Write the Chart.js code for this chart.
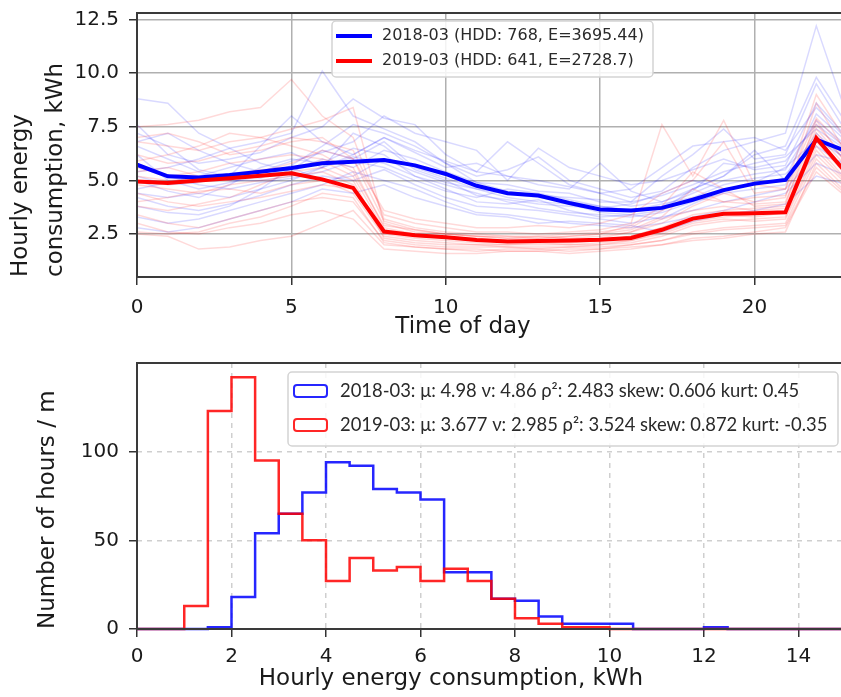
<!DOCTYPE html>
<html>
<head>
<meta charset="utf-8">
<title>Hourly energy consumption</title>
<script src="https://cdn.jsdelivr.net/npm/chart.js@4/dist/chart.umd.min.js"></script>
<style>
    body { margin: 0; background: #fff; }
    #wrap { position: relative; width: 841px; height: 697px; overflow: hidden; }
    canvas { position: absolute; left: 0; }
    #profileChart { top: 0; }
    #histChart { top: 340px; }
</style>
</head>
<body>
<div id="wrap">
    <canvas id="profileChart" width="841" height="340"></canvas>
    <canvas id="histChart" width="841" height="357"></canvas>
</div>
<script>
// --- top panel: hourly profiles ---
const hours = [0, 1, 2, 3, 4, 5, 6, 7, 8, 9, 10, 11, 12, 13, 14, 15, 16, 17, 18, 19, 20, 21, 22, 23];

const meanLabel2018 = '2018-03 (HDD: 768, E=3695.44)';
const meanLabel2019 = '2019-03 (HDD: 641, E=2728.7)';

const mean2018 = [5.73, 5.19, 5.14, 5.25, 5.4, 5.58, 5.8, 5.87, 5.95, 5.7, 5.3, 4.75, 4.4, 4.3, 3.95, 3.65, 3.6, 3.72, 4.1, 4.55, 4.85, 5.02, 6.9, 6.35];
const mean2019 = [4.95, 4.88, 5.0, 5.1, 5.22, 5.33, 5.05, 4.65, 2.62, 2.45, 2.35, 2.22, 2.15, 2.18, 2.2, 2.23, 2.32, 2.7, 3.22, 3.45, 3.47, 3.52, 6.97, 5.3];

// single days (faint lines)
const days2018 = [
    [8.8, 8.6, 7.2, 6.5, 6.8, 7.2, 10.1, 8.0, 7.4, 6.8, 5.8, 5.2, 5.5, 6.1, 5.0, 4.6, 4.2, 4.5, 5.6, 6.4, 6.8, 7.2, 12.2, 8.0],
    [7.6, 6.2, 5.8, 6.0, 6.3, 7.0, 7.5, 8.8, 7.9, 7.6, 6.2, 5.4, 6.8, 5.8, 4.8, 4.4, 4.0, 5.2, 6.2, 7.4, 6.0, 6.2, 9.5, 7.2],
    [6.2, 5.0, 4.6, 4.9, 5.2, 5.5, 6.4, 6.0, 6.8, 5.6, 5.1, 4.6, 4.4, 4.2, 4.0, 3.8, 3.6, 3.8, 4.4, 5.0, 5.3, 5.5, 7.8, 6.6],
    [5.0, 4.5, 4.2, 4.8, 5.6, 6.0, 5.8, 6.5, 6.2, 5.2, 4.6, 4.0, 3.9, 4.1, 3.6, 3.3, 3.4, 3.2, 3.9, 4.5, 4.9, 5.6, 6.9, 6.0],
    [4.2, 3.8, 3.6, 3.9, 4.3, 4.8, 5.2, 5.0, 5.5, 4.8, 4.2, 3.8, 3.7, 3.6, 3.4, 3.2, 3.0, 3.3, 3.6, 4.0, 4.3, 4.6, 6.2, 5.8],
    [3.3, 3.0, 3.2, 3.6, 4.0, 4.4, 4.8, 5.4, 5.0, 4.6, 4.0, 3.5, 3.4, 3.2, 3.0, 2.9, 2.8, 3.0, 3.3, 3.6, 4.0, 4.4, 5.8, 5.2],
    [6.8, 7.2, 6.4, 5.8, 5.4, 5.9, 6.3, 6.8, 8.0, 7.2, 6.8, 6.4, 5.0, 6.5, 5.6, 5.2, 4.8, 5.0, 5.5, 6.0, 5.5, 5.7, 8.6, 7.0],
    [5.4, 5.6, 6.0, 6.5, 5.8, 5.4, 6.0, 5.6, 6.4, 6.0, 5.4, 4.9, 4.8, 4.5, 4.4, 4.0, 4.0, 4.3, 4.8, 5.4, 5.8, 6.1, 7.4, 6.4],
    [2.8, 2.6, 2.8, 3.2, 3.6, 4.0, 4.6, 4.4, 4.8, 4.2, 3.8, 3.4, 3.3, 3.0, 3.1, 3.0, 2.9, 2.6, 3.1, 3.4, 3.6, 3.9, 5.2, 4.8],
    [4.6, 4.9, 5.2, 5.6, 6.0, 6.3, 5.6, 7.2, 6.6, 5.5, 5.0, 4.3, 4.1, 3.9, 3.8, 3.7, 3.9, 4.4, 5.0, 4.6, 4.8, 5.1, 8.1, 6.8],
    [7.2, 6.6, 5.5, 5.2, 6.6, 8.0, 6.8, 6.2, 7.0, 6.3, 5.6, 5.8, 5.2, 4.8, 4.6, 5.8, 4.5, 4.0, 4.6, 5.2, 6.2, 6.6, 9.8, 7.6],
    [5.8, 5.2, 4.8, 4.6, 4.9, 5.1, 5.4, 5.9, 5.6, 5.0, 4.5, 4.2, 4.6, 4.4, 4.1, 3.8, 3.6, 3.9, 4.2, 4.8, 5.1, 5.3, 6.6, 5.6],
    [6.6, 6.0, 5.4, 5.0, 5.0, 5.2, 5.6, 6.2, 7.0, 6.4, 5.9, 5.4, 5.2, 5.0, 4.7, 4.4, 4.6, 5.6, 6.6, 6.8, 7.0, 6.4, 8.4, 6.9],
    [3.8, 3.5, 3.4, 3.8, 4.6, 5.0, 5.6, 6.1, 5.8, 5.2, 4.8, 4.4, 4.0, 3.7, 3.5, 3.4, 3.3, 3.5, 4.0, 4.4, 4.6, 4.8, 7.0, 6.2],
    [5.2, 4.8, 4.9, 5.3, 5.1, 5.7, 6.6, 7.6, 7.2, 6.6, 5.8, 4.9, 4.5, 4.3, 4.2, 4.1, 3.8, 4.0, 4.5, 5.8, 5.6, 5.9, 7.6, 6.5],
    [4.4, 4.2, 4.4, 4.2, 4.6, 5.6, 5.0, 5.2, 6.0, 5.4, 4.9, 4.6, 4.2, 4.0, 3.9, 3.5, 3.4, 3.6, 4.6, 5.2, 6.4, 5.0, 7.2, 5.9]
];
const days2019 = [
    [7.5, 7.6, 7.8, 8.2, 8.4, 9.7, 8.0, 7.0, 3.2, 2.8, 2.6, 2.5, 2.4, 2.4, 2.5, 2.6, 2.8, 3.6, 4.2, 4.0, 4.2, 4.3, 7.6, 6.0],
    [6.8, 6.6, 6.4, 6.8, 7.0, 7.4, 7.8, 8.4, 3.0, 2.6, 2.5, 2.4, 2.3, 2.4, 2.3, 2.4, 2.6, 3.0, 3.8, 4.4, 4.0, 4.2, 8.6, 6.2],
    [5.6, 5.2, 5.4, 5.8, 6.0, 6.2, 6.0, 5.6, 2.8, 2.5, 2.4, 2.3, 2.2, 2.2, 2.1, 2.2, 2.4, 2.8, 3.4, 3.6, 3.7, 3.8, 7.2, 5.6],
    [4.8, 4.6, 4.4, 4.8, 5.0, 5.2, 5.4, 4.8, 2.5, 2.3, 2.2, 2.1, 2.0, 2.1, 2.0, 2.1, 2.2, 2.6, 3.1, 3.3, 3.4, 3.5, 6.8, 5.2],
    [4.0, 4.2, 4.5, 4.6, 4.4, 4.8, 5.0, 4.4, 2.4, 2.2, 2.1, 2.0, 2.0, 2.0, 2.0, 2.0, 2.1, 2.4, 2.9, 3.1, 3.2, 3.3, 6.4, 4.9],
    [3.4, 3.0, 2.8, 3.2, 3.6, 4.0, 4.2, 4.0, 2.2, 2.0, 1.9, 1.9, 1.9, 1.8, 1.9, 1.9, 2.0, 2.2, 2.6, 2.8, 2.9, 3.0, 6.0, 4.6],
    [2.5, 2.4, 1.8, 1.9, 2.2, 2.4, 3.0, 3.6, 2.0, 1.9, 1.8, 1.8, 1.7, 1.7, 1.8, 1.8, 1.9, 2.0, 2.3, 2.4, 2.6, 2.8, 5.4, 4.2],
    [6.2, 5.8, 5.9, 6.3, 6.6, 7.0, 6.8, 6.4, 3.4, 3.0, 2.8, 2.6, 2.6, 2.5, 2.6, 2.7, 3.0, 7.6, 5.2, 7.8, 4.8, 4.6, 7.9, 6.4],
    [5.2, 5.0, 5.1, 5.3, 5.5, 5.6, 5.9, 5.2, 2.7, 2.5, 2.3, 2.2, 2.2, 2.2, 2.2, 2.3, 2.6, 3.2, 3.6, 3.8, 3.6, 3.7, 7.0, 5.4],
    [4.4, 4.0, 3.8, 4.0, 4.2, 4.5, 4.8, 4.6, 2.6, 2.4, 2.3, 2.2, 2.1, 2.1, 2.1, 2.2, 2.4, 2.8, 3.2, 3.4, 3.3, 3.5, 6.6, 5.0],
    [3.0, 2.6, 2.5, 2.8, 3.0, 3.4, 3.6, 3.2, 1.8, 1.7, 1.6, 1.6, 1.7, 1.7, 1.6, 1.7, 1.8, 2.0, 2.2, 2.3, 2.5, 2.6, 5.8, 4.4],
    [7.0, 7.2, 6.8, 6.2, 6.4, 6.8, 7.0, 6.0, 3.6, 3.2, 3.0, 2.8, 2.8, 2.9, 2.8, 3.0, 3.4, 4.4, 5.0, 6.8, 4.4, 4.6, 9.0, 6.8],
    [5.9, 6.2, 6.6, 7.2, 7.0, 6.6, 6.2, 5.4, 2.9, 2.7, 2.5, 2.4, 2.3, 2.3, 2.4, 2.5, 2.7, 3.3, 4.6, 4.0, 3.9, 4.0, 7.4, 5.8],
    [3.8, 3.6, 3.9, 4.2, 4.8, 5.4, 5.6, 5.0, 2.3, 2.1, 2.0, 2.0, 1.9, 1.9, 1.9, 2.0, 2.2, 2.5, 3.0, 3.2, 3.1, 3.2, 6.2, 4.8],
    [2.6, 2.5, 2.6, 3.0, 3.3, 3.8, 4.4, 4.2, 2.1, 1.9, 1.8, 1.7, 1.8, 1.8, 1.7, 1.8, 2.0, 2.2, 2.5, 2.7, 2.8, 2.9, 5.6, 4.3],
    [5.4, 5.6, 5.2, 5.0, 5.4, 5.8, 6.4, 6.0, 3.1, 2.7, 2.5, 2.4, 2.4, 2.3, 2.4, 2.5, 2.9, 3.8, 5.4, 4.6, 3.8, 3.9, 7.8, 5.7]
];

const hourTicks = [0, 5, 10, 15, 20];
const kwhTicks = [2.5, 5.0, 7.5, 10.0, 12.5];

// --- bottom panel: histogram, bins of 0.5 kWh ---
const binStart = [0, 0.5, 1, 1.5, 2, 2.5, 3, 3.5, 4, 4.5, 5, 5.5, 6, 6.5, 7, 7.5, 8, 8.5, 9, 9.5, 10, 10.5, 11, 11.5, 12, 12.5, 13, 13.5, 14, 14.5];
const binEnd = 15;
const hist2018 = [0, 0, 0, 1, 18, 54, 65, 77, 94, 92, 79, 77, 73, 32, 32, 17, 16, 7, 3, 3, 3, 0, 0, 0, 1, 0, 0, 0, 0, 0];
const hist2019 = [0, 0, 13, 123, 142, 95, 65, 50, 27, 40, 33, 35, 27, 34, 27, 17, 6, 3, 1, 1, 0, 0, 0, 0, 0, 0, 0, 0, 0, 0];
const histLabel2018 = '2018-03: \u03bc: 4.98 \u03bd: 4.86 \u03c1\u00b2: 2.483 skew: 0.606 kurt: 0.45';
const histLabel2019 = '2019-03: \u03bc: 3.677 \u03bd: 2.985 \u03c1\u00b2: 3.524 skew: 0.872 kurt: -0.35';

const kwhBinTicks = [0, 2, 4, 6, 8, 10, 12, 14];
const hourCountTicks = [0, 50, 100];

function toPoints(values) {
    return values.map((v, i) => ({x: hours[i], y: v}));
}

function toSteps(counts) {
    const pts = binStart.map((x, i) => ({x: x, y: counts[i]}));
    pts.push({x: binEnd, y: 0});
    return pts;
}

// keep the plot area where it is, no extra room for the edge labels
function fixPadding(scale) {
    scale.paddingTop = 0;
    scale.paddingBottom = 0;
    scale.paddingLeft = 0;
    scale.paddingRight = 0;
}

// frame around the plot area, like matplotlib spines
const axesFrame = {
    id: 'axesFrame',
    afterDatasetsDraw(chart) {
        const a = chart.chartArea;
        const ctx = chart.ctx;
        ctx.save();
        ctx.strokeStyle = '#3a3a3a';
        ctx.lineWidth = 2;
        ctx.strokeRect(a.left, a.top, a.right - a.left + 4, a.bottom - a.top);
        ctx.restore();
    }
};

// x axis titles sit off the centre of the axes in the picture, draw them here
const xTitle = {
    id: 'xTitle',
    afterDraw(chart, args, opts) {
        const ctx = chart.ctx;
        ctx.save();
        ctx.font = opts.font;
        ctx.fillStyle = '#1a1a1a';
        ctx.textAlign = 'center';
        ctx.textBaseline = 'middle';
        ctx.fillText(opts.text, opts.x, opts.y);
        ctx.restore();
    }
};

// framed legend inside the axes
const boxLegend = {
    id: 'boxLegend',
    afterDraw(chart, args, opts) {
        const ctx = chart.ctx;
        const items = chart.data.datasets.filter(d => d.label);
        ctx.save();
        ctx.beginPath();
        ctx.roundRect(opts.x, opts.y, opts.w, opts.h, 4);
        ctx.fillStyle = 'rgba(255,255,255,0.85)';
        ctx.fill();
        ctx.strokeStyle = '#d4d4d4';
        ctx.lineWidth = 1.5;
        ctx.stroke();
        ctx.font = opts.font;
        ctx.textBaseline = 'middle';
        ctx.fillStyle = '#2a2a2a';
        items.forEach((d, i) => {
            const cy = opts.y + opts.first + i * opts.step;
            const mx = opts.x + 4;
            ctx.strokeStyle = d.borderColor;
            ctx.beginPath();
            if (opts.marker === 'line') {
                ctx.lineWidth = 4;
                ctx.moveTo(mx, cy);
                ctx.lineTo(mx + 36, cy);
            } else {
                ctx.lineWidth = 2;
                ctx.roundRect(mx + 2, cy - 6, 33, 12, 3);
            }
            ctx.stroke();
            ctx.fillText(d.label, opts.x + opts.textOffset, cy);
        });
        ctx.restore();
    }
};

const tickFont = {family: 'DejaVu Sans', size: 20};
const titleFont = {family: 'DejaVu Sans', size: 23, lineHeight: 1.52};

// top chart: the two mean lines (legend order) + faint daily lines below them
const profileSets = [
    {label: meanLabel2018, data: toPoints(mean2018), borderColor: '#0000ff', borderWidth: 4, order: 1},
    {label: meanLabel2019, data: toPoints(mean2019), borderColor: '#ff0000', borderWidth: 4, order: 0}
];
days2018.forEach(d => profileSets.push({data: toPoints(d), borderColor: 'rgba(0,0,255,0.15)', borderWidth: 1.5, order: 3}));
days2019.forEach(d => profileSets.push({data: toPoints(d), borderColor: 'rgba(255,0,0,0.15)', borderWidth: 1.5, order: 2}));

new Chart(document.getElementById('profileChart'), {
    type: 'line',
    data: {datasets: profileSets},
    options: {
        responsive: false,
        animation: false,
        layout: {padding: {top: 13, right: 0, bottom: 0, left: 0}},
        elements: {point: {radius: 0}, line: {tension: 0}},
        plugins: {
            legend: {display: false},
            tooltip: {enabled: false},
            xTitle: {text: 'Time of day', x: 463, y: 327, font: '23px "DejaVu Sans"'},
            boxLegend: {x: 332, y: 21, w: 321, h: 56, first: 15, step: 25, textOffset: 50, marker: 'line', font: '16px "DejaVu Sans"'}
        },
        scales: {
            x: {
                type: 'linear', min: 0, max: 22.8,
                afterBuildTicks: s => { s.ticks = hourTicks.map(v => ({value: v})); },
                afterFit: s => { s.height = 63; fixPadding(s); },
                ticks: {font: tickFont, color: '#1a1a1a', padding: 11, maxRotation: 0},
                grid: {color: '#b0b0b0', lineWidth: 1.5, tickLength: 8, tickColor: '#333'},
                border: {display: false}
            },
            y: {
                min: 0.5, max: 12.8,
                afterBuildTicks: s => { s.ticks = kwhTicks.map(v => ({value: v})); },
                afterFit: s => { s.width = 137; fixPadding(s); },
                ticks: {font: tickFont, color: '#1a1a1a', padding: 10, callback: v => v.toFixed(1)},
                grid: {color: '#b0b0b0', lineWidth: 1.5, tickLength: 8, tickColor: '#333'},
                border: {display: false},
                title: {display: true, text: ['Hourly energy', 'consumption, kWh'], align: 'start', font: titleFont, color: '#1a1a1a', padding: {top: 4}}
            }
        }
    },
    plugins: [axesFrame, xTitle, boxLegend]
});

// bottom chart: step histograms
new Chart(document.getElementById('histChart'), {
    type: 'line',
    data: {
        datasets: [
            {label: histLabel2018, data: toSteps(hist2018), borderColor: 'rgba(0,0,255,0.85)', borderWidth: 2.5, stepped: 'before', clip: false, order: 1},
            {label: histLabel2019, data: toSteps(hist2019), borderColor: 'rgba(255,0,0,0.85)', borderWidth: 2.5, stepped: 'before', clip: false, order: 0}
        ]
    },
    options: {
        responsive: false,
        animation: false,
        layout: {padding: {top: 23, right: 0, bottom: 0, left: 0}},
        elements: {point: {radius: 0}},
        plugins: {
            legend: {display: false},
            tooltip: {enabled: false},
            xTitle: {text: 'Hourly energy consumption, kWh', x: 451, y: 339, font: '23px "DejaVu Sans"'},
            boxLegend: {x: 288, y: 32, w: 550, h: 74, first: 19, step: 34, textOffset: 52, marker: 'box', font: '18.4px Lato'}
        },
        scales: {
            x: {
                type: 'linear', min: 0, max: 14.9,
                afterBuildTicks: s => { s.ticks = kwhBinTicks.map(v => ({value: v})); },
                afterFit: s => { s.height = 68; fixPadding(s); },
                ticks: {font: tickFont, color: '#1a1a1a', padding: 8, maxRotation: 0},
                grid: {color: '#cfcfcf', lineWidth: 1.5, tickLength: 8, tickColor: '#333'},
                border: {display: false, dash: [5, 5]}
            },
            y: {
                min: 0, max: 150,
                afterBuildTicks: s => { s.ticks = hourCountTicks.map(v => ({value: v})); },
                afterFit: s => { s.width = 137; fixPadding(s); },
                ticks: {font: tickFont, color: '#1a1a1a', padding: 10},
                grid: {color: '#cfcfcf', lineWidth: 1.5, tickLength: 8, tickColor: '#333'},
                border: {display: false, dash: [5, 5]},
                title: {display: true, text: 'Number of hours / m', align: 'start', font: {family: 'DejaVu Sans', size: 23}, color: '#1a1a1a', padding: {top: 34}}
            }
        }
    },
    plugins: [axesFrame, xTitle, boxLegend]
});
</script>
</body>
</html>
